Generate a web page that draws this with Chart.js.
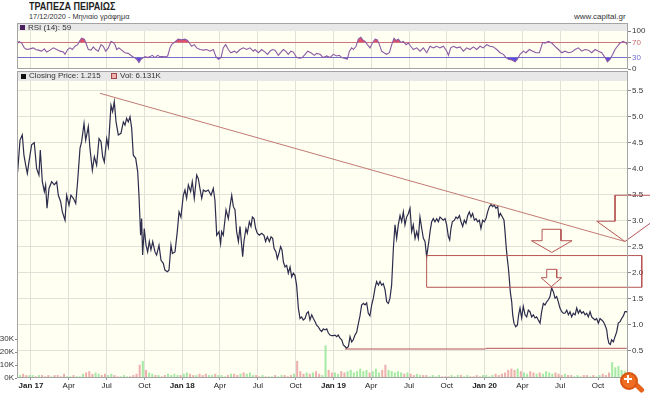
<!DOCTYPE html>
<html><head><meta charset="utf-8">
<script src="https://cdn.jsdelivr.net/npm/chart.js@4.4.0/dist/chart.umd.min.js"></script>
<style>
html,body{margin:0;padding:0;background:#fff;width:650px;height:399px;overflow:hidden;position:relative;}
.t{position:absolute;white-space:nowrap;line-height:1;color:#333;font-family:"Liberation Sans",Arial,sans-serif;transform-origin:0 0;}
canvas{position:absolute;left:0;}
</style></head><body>
<div class="t" style="left:29px;top:1px;font-weight:bold;font-size:11px;color:#1e1e1e;transform:scaleX(0.82)">ΤΡΑΠΕΖΑ ΠΕΙΡΑΙΩΣ</div>
<div class="t" style="left:29px;top:13px;font-size:8px;transform:scaleX(0.92)">17/12/2020 - Μηνιαίο γράφημα</div>
<div class="t" style="left:574px;top:13px;font-size:8px;">www.capital.gr</div>
<canvas id="rsi" width="650" height="52" style="top:23px"></canvas>
<canvas id="main" width="650" height="329" style="top:70px"></canvas>
<div style="position:absolute;left:20px;top:24.5px;width:5px;height:5px;background:#4a1f5e"></div>
<div class="t" style="left:28px;top:23.5px;font-size:8px;">RSI (14): 59</div>
<div style="position:absolute;left:21px;top:73.5px;width:5px;height:5px;background:#111"></div>
<div class="t" style="left:29px;top:72px;font-size:8px;">Closing Price: 1.215</div>
<div style="position:absolute;left:111px;top:73px;width:4px;height:4px;background:#f0b0b0;border:1px solid #a04848"></div>
<div class="t" style="left:120px;top:72px;font-size:8px;">Vol: 6.131K</div>
<div style="position:absolute;left:633px;top:385px;width:12px;height:5px;background:#e8641c;transform:rotate(45deg);border-radius:2px"></div>
<div style="position:absolute;left:620px;top:372px;width:14px;height:14px;border-radius:50%;background:#ef6d22;border:2px solid #d85510"></div>
<div style="position:absolute;left:625px;top:375px;width:2px;height:8px;background:#fff;margin-left:2px"></div>
<div style="position:absolute;left:623px;top:378px;width:8px;height:2px;background:#fff;margin-left:1px"></div>
<script>
// ---------- data (x = months since Jan 2017) ----------
const xTickMonths = [0,3,6,9,12,15,18,21,24,27,30,33,36,39,42,45];
const xTickLabels = ['Jan 17','Apr','Jul','Oct','Jan 18','Apr','Jul','Oct','Jan 19','Apr','Jul','Oct','Jan 20','Apr','Jul','Oct'];
const priceTicks = [0.5,1.0,1.5,2.0,2.5,3.0,3.5,4.0,4.5,5.0,5.5];
const volTicks = [0,10,20,30];
const rsiTicks = [0,30,70,100];

const priceX = [-1.06,-0.87,-0.69,-0.56,-0.42,-0.29,-0.16,0.05,0.26,0.45,0.63,0.74,0.90,1.06,1.16,1.27,1.43,1.64,1.85,2.04,2.17,2.35,2.49,2.70,2.83,3.02,3.17,3.36,3.55,3.70,3.89,4.02,4.21,4.34,4.55,4.68,4.87,5.03,5.21,5.40,5.56,5.69,5.82,6.01,6.14,6.35,6.48,6.61,6.75,6.93,7.14,7.33,7.46,7.59,7.72,7.86,7.99,8.12,8.31,8.47,8.57,8.70,8.78,8.86,8.99,9.13,9.26,9.39,9.52,9.66,9.84,9.97,10.16,10.32,10.50,10.63,10.82,10.95,11.11,11.22,11.43,11.61,11.75,11.90,12.09,12.22,12.35,12.49,12.67,12.80,12.96,13.15,13.28,13.41,13.55,13.68,13.86,14.07,14.29,14.47,14.60,14.74,14.92,15.05,
15.13,15.26,15.48,15.66,15.79,15.93,16.06,16.19,16.32,16.46,16.59,16.67,16.80,16.90,17.06,17.17,17.33,17.46,17.57,17.70,17.83,17.96,18.12,18.31,18.49,18.62,18.76,18.92,19.05,19.18,19.29,19.44,19.55,19.71,19.81,19.92,20.03,20.16,20.29,20.42,20.56,20.69,20.82,20.95,21.08,21.22,21.35,21.48,21.61,21.75,21.88,22.01,22.14,22.28,22.41,22.54,22.67,22.80,22.94,23.07,23.20,23.33,23.47,23.60,23.73,23.86,23.99,24.13,24.26,24.39,24.52,24.66,24.79,24.92,25.05,25.19,25.32,25.45,25.58,25.71,25.85,25.98,26.11,26.24,26.38,26.51,26.64,26.77,26.90,27.04,27.17,27.30,27.43,27.57,27.70,27.83,27.96,28.10,28.23,28.36,28.49,28.62,28.76,28.89,29.02,29.15,29.29,29.42,29.55,29.68,29.81,29.95,30.08,30.21,30.34,30.48,30.61,30.74,30.87,31.01,31.14,31.27,
31.40,31.59,31.67,31.80,31.93,32.06,32.20,32.33,32.46,32.59,32.72,32.86,32.99,33.12,33.23,33.33,33.44,33.60,33.73,33.86,34.00,34.13,34.26,34.39,34.52,34.66,34.79,34.92,35.05,35.19,35.32,35.45,35.58,35.71,35.85,35.98,36.11,36.24,36.38,36.51,36.64,36.77,36.90,37.04,37.14,37.25,37.41,37.54,37.62,37.70,37.80,37.88,37.96,38.04,38.15,38.23,38.33,38.47,38.60,38.70,38.81,38.94,39.07,39.21,39.34,39.47,39.60,39.74,39.87,40.00,40.13,40.26,40.40,40.53,40.66,40.79,40.93,41.06,41.19,41.32,41.46,41.59,41.72,41.85,41.98,42.12,42.25,42.38,42.52,42.65,42.78,42.91,43.04,43.18,43.31,43.44,43.57,43.70,43.84,43.97,44.10,44.23,44.37,44.50,44.63,44.76,44.89,45.03,45.16,45.29,45.42,45.56,45.69,45.77,45.87,45.98,46.08,46.22,46.35,46.48,46.61,46.75,46.88,47.01,47.14,47.28,47.41];
const priceY = [3.94,4.55,4.65,4.26,4.07,3.91,4.13,4.46,4.50,4.00,3.88,4.36,3.75,3.56,3.69,3.24,3.62,3.75,3.69,3.75,3.49,3.37,3.17,3.01,3.49,3.30,3.49,3.43,3.33,3.75,4.39,4.52,4.87,4.55,4.81,4.39,3.97,4.23,4.07,4.58,4.52,4.23,4.13,4.58,4.42,5.22,5.10,5.29,4.90,4.65,4.68,4.90,4.84,4.97,4.90,5.00,4.78,4.26,4.20,3.94,3.49,2.72,3.04,2.34,2.85,2.53,2.40,2.60,2.44,2.60,2.40,2.34,2.53,2.24,2.18,2.05,2.02,2.05,2.53,2.37,2.40,2.79,3.17,3.07,3.49,3.59,3.43,3.69,3.56,3.75,3.43,3.88,3.81,3.62,3.43,3.59,3.56,3.59,3.49,3.62,3.39,2.72,2.79,2.56,
2.79,2.72,3.21,3.04,3.27,3.49,3.27,3.21,2.79,2.60,2.89,2.66,2.31,2.60,2.85,2.76,2.98,2.89,3.07,3.04,2.85,2.76,2.72,2.76,2.72,2.60,2.69,2.60,2.69,2.66,2.47,2.40,2.27,2.40,2.50,2.44,2.21,2.11,2.14,1.99,2.11,1.92,1.99,1.95,1.76,1.32,1.12,1.15,1.09,1.12,1.22,1.25,1.09,1.19,1.12,1.06,0.99,0.96,0.90,0.87,0.92,0.90,0.92,0.84,0.80,0.79,0.79,0.80,0.77,0.80,0.74,0.71,0.61,0.58,0.55,0.58,0.77,0.67,0.71,0.80,0.86,1.02,1.17,1.38,1.41,1.38,1.42,1.22,1.17,1.38,1.51,1.70,1.83,1.76,1.83,1.76,1.79,1.67,1.44,1.41,1.51,1.76,2.47,2.92,2.66,2.92,3.10,2.98,3.17,2.92,3.07,3.14,3.24,2.79,2.92,2.66,2.79,2.66,3.07,2.85,2.66,2.60,
2.31,2.63,2.79,2.98,3.04,2.98,3.04,2.98,3.07,3.04,3.01,3.04,2.92,2.70,2.63,2.85,2.98,3.01,3.07,3.04,3.10,2.98,2.89,3.01,2.95,3.10,3.17,3.07,3.14,3.01,3.04,2.98,3.01,2.85,3.01,2.98,3.04,3.17,3.27,3.31,3.27,3.30,3.24,3.27,3.07,3.14,3.07,3.01,2.79,2.53,2.27,2.11,1.89,1.63,1.44,1.19,1.03,0.96,0.99,1.19,1.32,1.13,1.35,1.19,1.15,1.28,1.25,1.15,1.19,1.13,1.15,1.09,1.03,1.25,1.41,1.38,1.44,1.48,1.54,1.71,1.63,1.51,1.54,1.44,1.32,1.25,1.22,1.22,1.28,1.19,1.25,1.15,1.22,1.19,1.32,1.22,1.28,1.22,1.25,1.19,1.22,1.15,1.25,1.15,1.12,1.09,1.12,1.03,1.12,1.09,1.06,0.99,0.90,0.74,0.64,0.62,0.71,0.67,0.77,0.86,1.03,1.06,1.12,1.17,1.25,1.25,1.215];

// weekly volume (thousands), first week starts Dec 2016 (month -1)
const volStartMonth = -1, volWeek = 0.25;
const volumes = [2,3,2,2, 2,1,2,2, 1,2,1,2, 2,1,3,1, 1,2,1,1, 3,4,5,3, 4,3,2,3, 2,3,2,1, 1,2,1,1, 2,3,10,13, 6,4,3,2, 2,1,2,3, 2,3,2,2,
3,4,3,2, 2,3,2,3, 2,2,3,2, 2,1,2,3, 3,2,3,4, 3,4,2,2, 1,2,1,1, 1,2,1,2, 2,1,2,3, 13,5,3,4, 3,4,5,3, 2,25,6,4,
4,3,5,4, 5,6,4,5, 7,5,6,4, 5,7,4,6, 10,6,5,4, 5,4,3,4, 3,2,3,2, 2,2,1,2, 1,2,1,1, 1,2,1,2, 2,1,2,1, 1,2,1,2,
2,1,2,3, 2,3,4,6, 7,6,7,5, 4,3,5,4, 3,4,3,5, 4,3,4,3, 2,3,2,2, 1,2,1,2, 2,1,2,1, 2,3,2,4, 12,8,9,6, 5,4];

const rsiX = [-1.14,-0.95,-0.74,-0.53,-0.34,-0.08,0.19,0.37,0.58,0.85,1.06,1.24,1.51,1.77,2.04,2.30,2.57,2.70,2.91,3.10,3.28,3.49,3.70,3.89,4.02,4.23,4.36,4.55,4.76,4.95,5.13,5.34,5.56,5.74,5.93,6.14,6.35,6.53,6.67,6.80,6.98,7.20,7.46,7.72,7.99,8.20,8.39,8.57,8.73,8.92,9.05,9.26,9.44,9.63,9.84,10.05,10.24,10.42,10.63,10.85,11.03,11.16,11.38,11.56,11.69,11.96,12.22,12.43,12.57,12.75,12.96,13.15,13.41,13.68,13.94,14.21,14.47,14.68,14.87,15.08,15.26,15.45,15.66,15.87,16.14,16.32,16.59,16.85,17.12,17.38,17.65,17.78,18.04,18.31,18.57,18.78,18.97,19.15,19.36,19.63,19.84,20.03,20.21,20.42,20.63,20.82,21.08,21.35,21.53,21.75,21.96,22.22,22.49,22.67,
22.94,23.20,23.47,23.73,24.00,24.26,24.47,24.66,24.92,25.11,25.27,25.45,25.59,25.80,25.98,26.17,26.33,26.51,26.70,26.91,27.09,27.31,27.49,27.65,27.83,28.02,28.23,28.44,28.63,28.81,28.97,29.16,29.34,29.55,29.77,29.95,30.14,30.35,30.61,30.88,31.14,31.41,31.67,31.93,32.20,32.46,32.73,33.00,33.13,33.31,33.52,33.79,34.05,34.32,34.58,34.84,35.11,35.37,35.64,35.90,36.17,36.43,36.70,36.96,37.23,37.49,37.70,37.89,38.15,38.42,38.60,38.81,39.08,39.29,39.55,39.82,40.08,40.35,40.61,40.80,41.06,41.33,41.59,41.86,42.12,42.38,42.65,42.91,43.18,43.44,43.71,43.97,44.24,44.50,44.77,45.03,45.30,45.56,45.75,45.96,46.17,46.35,46.54,46.75,47.01,47.23,47.41];
const rsiY = [64.1,72.5,68.3,55.6,51.3,53,55.6,51.3,49.6,47,53,44.5,49.6,55.6,51.3,47,44.5,38.6,51.3,55.6,51.3,59.8,64.1,75,81,78.5,68.3,51.3,49.6,58.1,51.3,47,64.1,59.8,47,55.6,72.5,70,64.1,51.3,55.6,49.6,42.8,41.1,34.3,30,25.8,17.3,25.8,30,32.6,30,32.6,36,30,36,32.6,32.6,31.8,34.3,55.6,64.1,70,75,78.5,76.7,78.5,75,68.3,59.8,64.1,55.6,51.3,49.6,51.3,47,51.3,32.6,25.8,30,55.6,64.1,51.3,42.8,47,42.8,51.3,55.6,51.3,55.6,47,51.3,42.8,51.3,44.5,38.6,47,51.3,49.6,36,44.5,51.3,47,38.6,47,44.5,30,28.3,30,38.6,47,42.8,36,41.1,
38.6,30,34.3,30,38.6,34.3,36,30,27.4,25.8,47,55.6,51.3,59.8,78.5,83.6,76.7,72.5,64.1,55.6,68.3,78.5,76.7,64.1,47,42.8,38.6,42.8,64.1,81,75,78.5,70,72.5,64.1,68.3,59.8,51.3,55.6,47,55.6,42.8,59.8,55.6,59.8,55.6,59.8,47,36,55.6,59.8,55.6,58.1,47,55.6,51.3,58.1,51.3,59.8,55.6,64.1,59.8,58.1,51.3,42.8,38.6,30,25.8,24.1,19,25.8,38.6,47,42.8,51.3,47,42.8,42.8,70,68.3,72.5,68.3,59.8,51.3,42.8,47,42.8,44.5,51.3,55.6,47,51.3,49.6,42.8,51.3,47,42.8,30,19,25.8,38.6,51.3,59.8,68.3,72.5,68.3,59];

// drawn studies (month, price)
const trendLine = [[5.48,5.45],[47.14,2.60]];
const rangeBox = [[31.40,2.33],[48.47,2.33],[48.47,1.72],[31.40,1.72],[31.40,2.33]];
const supportLine1 = [[24.92,0.533],[36.09,0.533]];
const supportLine2 = [[36.09,0.546],[47.28,0.546]];
const bigArrow = [[40.56,2.835],[42.06,2.835],[42.06,2.615],[42.94,2.615],[41.33,2.39],[39.72,2.615],[40.56,2.615],[40.56,2.835]];
const smallArrow = [[40.93,2.065],[41.72,2.065],[41.72,1.904],[42.12,1.904],[41.29,1.731],[40.48,1.904],[40.93,1.904],[40.93,2.065]];
const callout = [[49.13,3.49],[46.35,3.49],[46.35,2.99],[44.90,2.99],[47.14,2.60],[49.13,2.95]];

// ---------- rendering ----------
const X_MIN = -1.11, X_MAX = 47.38;
const FONT = 'Liberation Sans';
const GRID = '#e1e1da';
const pts = (xs, ys) => xs.map((x, i) => ({x, y: ys[i]}));
const pairs = a => a.map(p => ({x: p[0], y: p[1]}));

function panelPlugin(header) {
  return {
    id: 'panel' + header,
    beforeDraw(chart) {
      const {ctx, chartArea: a} = chart;
      ctx.save();
      ctx.fillStyle = '#fffff2';
      ctx.fillRect(a.left, a.top, a.right - a.left, a.bottom - a.top);
      ctx.fillStyle = '#e8e8e8';
      ctx.fillRect(a.left, a.top - header, a.right - a.left, header);
      ctx.restore();
    },
    afterDraw(chart) {
      const {ctx, chartArea: a} = chart;
      ctx.save();
      ctx.strokeStyle = '#a4a4a4';
      ctx.lineWidth = 1;
      ctx.strokeRect(Math.round(a.left) + 0.5, Math.round(a.top - header) + 0.5,
        Math.round(a.right - a.left) - 1, Math.round(a.bottom - a.top + header) - 1);
      ctx.restore();
    }
  };
}

function xScale(showLabels) {
  return {
    type: 'linear', min: X_MIN, max: X_MAX, offset: false,
    afterBuildTicks: ax => { ax.ticks = xTickMonths.map(v => ({value: v})); },
    ticks: {
      display: showLabels, autoSkip: false, maxRotation: 0, minRotation: 0, padding: 1,
      color: '#222',
      callback: (v, i) => xTickLabels[i],
      font: c => ({family: FONT, size: 8, weight: (c.tick && c.tick.value % 12 === 0) ? 'bold' : 'normal'})
    },
    grid: {color: GRID, offset: false, drawTicks: showLabels, tickLength: 2, tickColor: '#999'},
    border: {display: false},
    afterFit: ax => { ax.height = showLabels ? 21 : 6; }
  };
}

// RSI panel
new Chart(document.getElementById('rsi'), {
  type: 'line',
  data: {datasets: [
    {data: pts(rsiX, rsiY), borderWidth: 0, pointRadius: 0, tension: 0,
     fill: {target: {value: 30}, above: 'rgba(0,0,0,0)', below: '#5a4be0'}, order: 3},
    {data: pts(rsiX, rsiY), borderColor: '#8d5aa3', borderWidth: 1.1, pointRadius: 0, tension: 0,
     fill: {target: {value: 70}, above: '#e2506c', below: 'rgba(0,0,0,0)'}, order: 1}
  ]},
  options: {
    responsive: false, animation: false, events: [],
    layout: {padding: {top: 8, left: 17, right: 0, bottom: 0}},
    plugins: {legend: {display: false}, tooltip: {enabled: false}},
    scales: {
      x: xScale(false),
      y: {
        position: 'right', min: 0, max: 100,
        afterBuildTicks: ax => { ax.ticks = rsiTicks.map(v => ({value: v})); },
        ticks: {padding: 1, font: {family: FONT, size: 8},
          color: c => c.tick.value === 70 ? '#c86a6a' : c.tick.value === 30 ? '#6f6fcf' : '#333'},
        grid: {tickLength: 3, tickColor: '#888',
          color: c => c.tick.value === 70 ? '#c98080' : c.tick.value === 30 ? '#7c7cc8' : 'rgba(0,0,0,0)'},
        border: {display: false},
        afterFit: ax => { ax.width = 22; }
      }
    }
  },
  plugins: [panelPlugin(8)]
});

// Price + volume panel
function priceAt(m) {
  let v = priceY[0];
  for (let i = 0; i < priceX.length; i++) { if (priceX[i] <= m) v = priceY[i]; else break; }
  return v;
}
const volData = volumes.map((v, i) => ({x: volStartMonth + i * volWeek + volWeek / 2, y: v}));
const volColors = volumes.map((v, i) => {
  const s = volStartMonth + i * volWeek;
  return priceAt(s + volWeek) >= priceAt(s) ? '#a6eaa6' : '#eeb0ae';
});
const studyStyle = {type: 'line', borderColor: '#b65555', borderWidth: 1, pointRadius: 0, tension: 0,
  fill: false, clip: false, yAxisID: 'yP', xAxisID: 'x', order: 0};

new Chart(document.getElementById('main'), {
  type: 'line',
  data: {datasets: [
    {type: 'bar', data: volData, backgroundColor: volColors, barThickness: 1.4, grouped: false,
     yAxisID: 'yV', xAxisID: 'x', order: 5},
    {type: 'line', data: pts(priceX, priceY), borderColor: '#2c2c4c', borderWidth: 1.2,
     pointRadius: 0, tension: 0, yAxisID: 'yP', xAxisID: 'x', order: 2},
    Object.assign({data: pairs(trendLine)}, studyStyle, {borderColor: '#c27a72'}),
    Object.assign({data: pairs(rangeBox)}, studyStyle),
    Object.assign({data: pairs(supportLine1)}, studyStyle),
    Object.assign({data: pairs(supportLine2)}, studyStyle),
    Object.assign({data: pairs(bigArrow)}, studyStyle),
    Object.assign({data: pairs(smallArrow)}, studyStyle),
    Object.assign({data: pairs(callout)}, studyStyle)
  ]},
  options: {
    responsive: false, animation: false, events: [],
    layout: {padding: {top: 11, left: 0, right: 0, bottom: 0}},
    plugins: {legend: {display: false}, tooltip: {enabled: false}},
    scales: {
      x: xScale(true),
      yP: {
        position: 'right', min: -0.025, max: 5.687,
        afterBuildTicks: ax => { ax.ticks = priceTicks.map(v => ({value: v})); },
        ticks: {padding: 1, color: '#333', font: {family: FONT, size: 8}, callback: v => v.toFixed(1)},
        grid: {color: GRID, tickLength: 3, tickColor: '#888'},
        border: {display: false},
        afterFit: ax => { ax.width = 22; }
      },
      yV: {
        position: 'left', min: 0, max: 230,
        afterBuildTicks: ax => { ax.ticks = volTicks.map(v => ({value: v})); },
        ticks: {padding: 1, color: '#333', font: {family: FONT, size: 8}, callback: v => v + 'K'},
        grid: {drawOnChartArea: false, tickLength: 2, tickColor: '#888'},
        border: {display: false},
        afterFit: ax => { ax.width = 17; }
      }
    }
  },
  plugins: [panelPlugin(10)]
});
</script>
</body></html>
